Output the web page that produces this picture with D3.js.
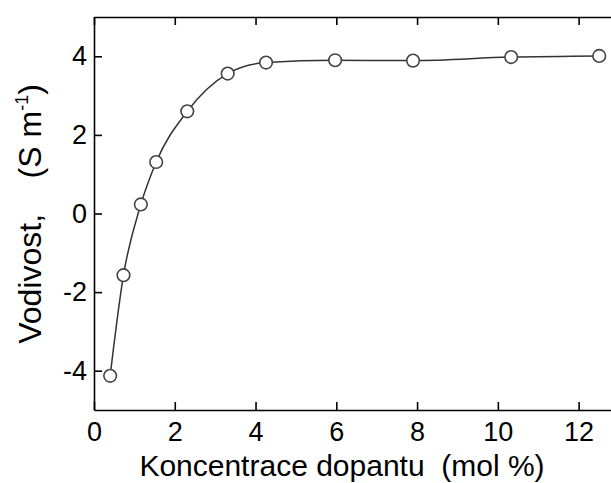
<!DOCTYPE html>
<html>
<head>
<meta charset="utf-8">
<script src="https://cdn.jsdelivr.net/npm/d3@7"></script>
<style>
  body { margin: 0; background: #fff; }
  svg { font-family: "Liberation Sans", Arial, sans-serif; }
</style>
</head>
<body>
<div id="chart"></div>
<script>
// concentration (mol %) and conductivity values
var conc = [0.40, 0.73, 1.16, 1.54, 2.31, 3.31, 4.26, 5.97, 7.90, 10.33, 12.51];
var vodivost = [-4.13, -1.57, 0.23, 1.31, 2.60, 3.56, 3.84, 3.90, 3.89, 3.98, 4.01];
var xTicks = [0, 2, 4, 6, 8, 10, 12];
var yTicks = [-4, -2, 0, 2, 4];

var margin = {top: 17, right: -8, bottom: 73, left: 94},
width = 611 - margin.left - margin.right,
height = 483 - margin.top - margin.bottom;

var svg = d3.select("#chart")
    .append("svg")
    .attr("width", 611)
    .attr("height", 483)
    .append("g")
        .attr("transform", "translate(" + margin.left + "," + margin.top + ")");

var x = d3.scaleLinear().domain([0, 13]).range([0, width]);
var y = d3.scaleLinear().domain([-5, 5]).range([height, 0]);

var data = conc.map((c, i) => ({x: c, y: vodivost[i]}));

// axes, ticks pointing inward (box frame, right side falls just outside the window)
var xAxisG = svg.append("g")
    .attr("transform", "translate(0," + height + ")")
    .call(d3.axisBottom(x).tickValues(xTicks).tickSizeInner(-8).tickSizeOuter(0).tickPadding(12));
var topG = svg.append("g")
    .call(d3.axisTop(x).tickValues(xTicks).tickSizeInner(-8).tickSizeOuter(0).tickFormat(""));
var yAxisG = svg.append("g")
    .call(d3.axisLeft(y).tickValues(yTicks).tickSizeInner(-8).tickSizeOuter(0).tickPadding(7).tickFormat(d3.format("d")));
var rightG = svg.append("g")
    .attr("transform", "translate(" + width + ",0)")
    .call(d3.axisRight(y).tickValues(yTicks).tickSizeInner(-8).tickSizeOuter(0).tickFormat(""));

svg.selectAll(".domain").attr("stroke", "#000").attr("stroke-width", 1.6);
svg.selectAll(".tick line").attr("stroke", "#000").attr("stroke-width", 1.6);
svg.selectAll(".tick text").attr("font-size", 27).attr("fill", "#000")
    .attr("font-family", "Liberation Sans, Arial, sans-serif");
yAxisG.selectAll(".tick text").text(d => d < 0 ? "-" + Math.abs(d) : d);

// axis titles
svg.append("text")
    .attr("x", 248)
    .attr("y", height + 66)
    .attr("text-anchor", "middle")
    .attr("font-size", 30)
    .style("white-space", "pre")
    .text("Koncentrace dopantu  (mol %)");

var yl = svg.append("text")
    .attr("transform", "translate(-53," + 197 + ") rotate(-90)")
    .attr("text-anchor", "middle")
    .attr("font-size", 32)
    .style("white-space", "pre");
yl.append("tspan").text("Vodivost,    (S m");
yl.append("tspan").attr("dy", -13).attr("font-size", 18).text("-1");
yl.append("tspan").attr("dy", 13).text(")");

// curve and markers
var line = d3.line()
    .x(d => x(d.x))
    .y(d => y(d.y))
    .curve(d3.curveMonotoneX);

svg.append("path")
    .datum(data)
    .attr("fill", "none")
    .attr("stroke", "#333")
    .attr("stroke-width", 1.5)
    .attr("d", line);

svg.append("g")
    .selectAll("circle")
    .data(data)
    .join("circle")
        .attr("cx", d => x(d.x))
        .attr("cy", d => y(d.y))
        .attr("r", 6.3)
        .attr("fill", "#fff")
        .attr("stroke", "#444")
        .attr("stroke-width", 1.6);
</script>
</body>
</html>
